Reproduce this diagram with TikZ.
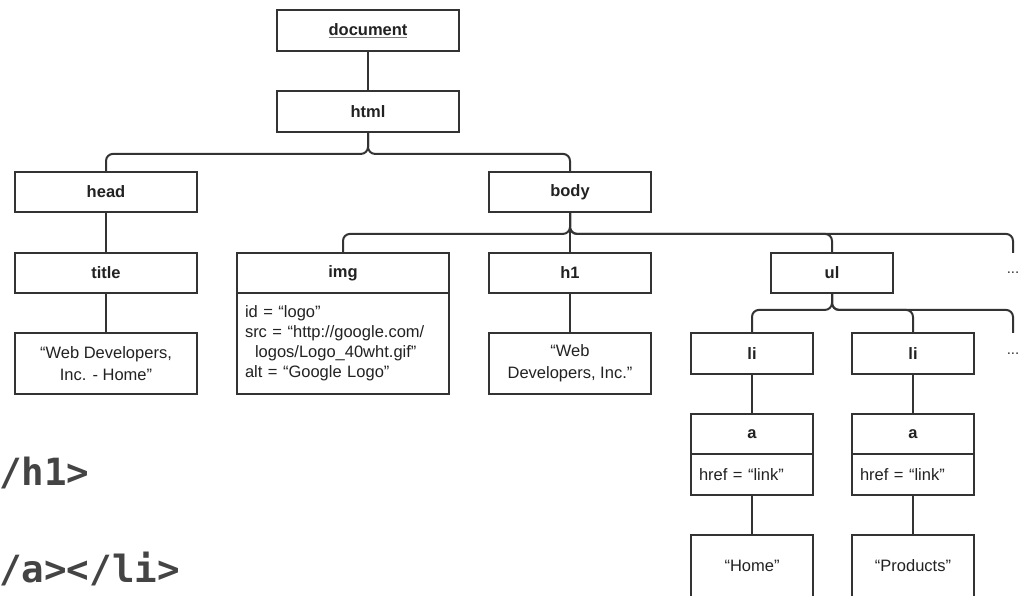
\documentclass[tikz,border=0pt]{standalone}
\usepackage{fontspec}
\setmainfont{Liberation Sans}
\newfontfamily\codefont{DejaVu Sans Mono}
\definecolor{ln}{HTML}{333333}
\definecolor{tx}{HTML}{222222}
\definecolor{code}{HTML}{444444}
\begin{document}
\begin{tikzpicture}[x=1pt,y=-1pt,
  box/.style={draw=ln,line width=1.8pt,fill=white,inner sep=0pt,text=tx,
    font=\fontsize{16.5}{20}\selectfont\bfseries},
  txtbox/.style={draw=ln,line width=1.8pt,fill=white,inner sep=0pt,text=tx,align=center,
    font=\fontsize{16.5}{22}\selectfont},
  attrbox/.style={draw=ln,line width=1.8pt,fill=white,inner xsep=8pt,inner ysep=0pt,text=tx,align=left,
    font=\fontsize{16.5}{20}\selectfont},
  conn/.style={draw=ln,line width=2pt},
  rc/.style={conn,rounded corners=7pt},
  dotsn/.style={inner sep=0pt,minimum width=20,text=ln,font=\fontsize{15}{20}\selectfont},
  codetxt/.style={anchor=base west,inner sep=0pt,text=code,font=\codefont\bfseries\fontsize{37.5}{40}\selectfont}
]
\useasboundingbox (0,0) rectangle (1020,595);

% code fragments on the left
\node[codetxt] (c1) at (-1,485) {/h1>};
\node[codetxt] (c2) at (-1,582) {/a></li>};

% level 0-1
\node[box,minimum width=182,minimum height=41] (doc) at (368,30.5) {{\color{gray}\underline{\color{tx}document}}};
\node[box,minimum width=182,minimum height=41] (html) at (368,111.5) {html};

% level 2
\node[box,minimum width=182,minimum height=40] (head) at (106,192) {head};
\node[box,minimum width=162,minimum height=40] (body) at (570,192) {body};

% level 3
\node[box,minimum width=182,minimum height=40] (title) at (106,273) {title};
\node[box,minimum width=212,minimum height=40] (img) at (343,273) {img};
\node[attrbox,text width=196,minimum height=101] (imgattr) at (343,343.5)
  {id = “logo”\\src = “http://google.com/\\\hspace*{10pt}logos/Logo\_40wht.gif”\\alt = “Google Logo”};
\node[box,minimum width=162,minimum height=40] (h1) at (570,273) {h1};
\node[box,minimum width=122,minimum height=40] (ul) at (832,273) {ul};
\node[dotsn,minimum height=40] (dots1) at (1013,273) {...};

% level 4
\node[txtbox,minimum width=182,minimum height=61] (titletxt) at (106,363.5) {“Web Developers,\\Inc. - Home”};
\node[txtbox,minimum width=162,minimum height=61] (h1txt) at (570,363.5) {“Web\\Developers, Inc.”};
\node[box,minimum width=122,minimum height=41] (li1) at (752,353.5) {li};
\node[box,minimum width=122,minimum height=41] (li2) at (913,353.5) {li};
\node[dotsn,minimum height=41] (dots2) at (1013,353.5) {...};

% a elements
\node[box,minimum width=122,minimum height=40] (a1) at (752,434) {a};
\node[attrbox,text width=106,minimum height=41] (a1attr) at (752,474.5) {href = “link”};
\node[box,minimum width=122,minimum height=40] (a2) at (913,434) {a};
\node[attrbox,text width=106,minimum height=41] (a2attr) at (913,474.5) {href = “link”};

% text leaves (cut by the page edge)
\node[txtbox,minimum width=122,minimum height=62] (home) at (752,566) {“Home”};
\node[txtbox,minimum width=122,minimum height=62] (prod) at (913,566) {“Products”};

% connectors
\draw[conn] (doc) -- (html);
\draw[rc] (html.south) -- ++(0,21) -| (head.north);
\draw[rc] (html.south) -- ++(0,21) -| (body.north);
\draw[conn] (head) -- (title);
\draw[conn] (title) -- (titletxt);
\draw[conn] (body) -- (h1);
\draw[rc] (body.south) -- ++(0,21) -| (img.north);
\draw[rc] (body.south) -- ++(0,21) -| (ul.north);
\draw[rc] (body.south) -- ++(0,21) -| (dots1.north);
\draw[conn] (h1) -- (h1txt);
\draw[rc] (ul.south) -- ++(0,16) -| (li1.north);
\draw[rc] (ul.south) -- ++(0,16) -| (li2.north);
\draw[rc] (ul.south) -- ++(0,16) -| (dots2.north);
\draw[conn] (li1) -- (a1);
\draw[conn] (li2) -- (a2);
\draw[conn] (a1attr) -- (home);
\draw[conn] (a2attr) -- (prod);
\end{tikzpicture}
\end{document}
